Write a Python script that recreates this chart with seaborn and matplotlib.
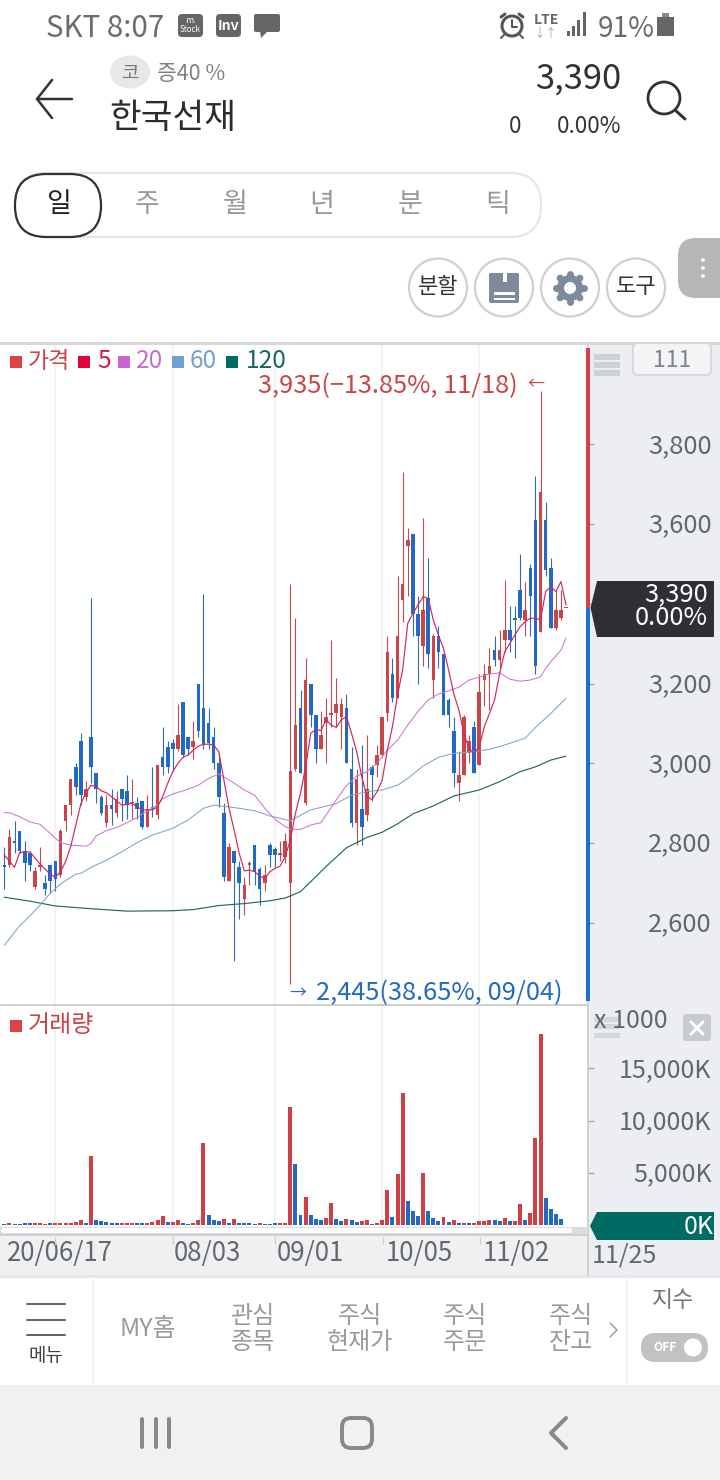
import numpy as np
import pandas as pd
import seaborn as sns
import matplotlib
matplotlib.use("Agg")
import matplotlib.pyplot as plt
from matplotlib.patches import Rectangle, FancyBboxPatch, Ellipse, Polygon, Circle
from matplotlib.transforms import ScaledTranslation

# ---------- data ----------
candle_high = [2790,2835,2855,2830,2805,2780,2740,2790,2720,2745, 2755,2835,2895,2960,3000,3075,2955,3415,2975,2920,
               2920,2935,2930,2935,2970,2960,2915,2905,2920,2990, 2995,3090,3055,3060,3150,3155,3065,3105,3200,3425,
               3140,3090,3025,2900,2800,2780,2755,2715,2755,2795, 2740,2745,2800,2790,2805,2825,3450,3365,3185,3265,
               3200,3120,3130,3165,3310,3215,3165,3175,3040,2985, 3045,3070,2995,3045,3115,3320,3265,3470,3730,3590,
               3575,3420,3615,3515,3325,3345,3275,3165,3115,3030, 3120,3070,3105,3225,3250,3290,3320,3335,3460,3395,
               3395,3525,3455,3500,3720,3935,3655,3515,3435,3435,3390]
candle_top = [2745,2815,2805,2830,2780,2775,2730,2745,2700,2745, 2755,2830,2895,2960,2990,3055,2935,3065,2975,2915,
              2895,2895,2910,2935,2930,2900,2900,2905,2885,2890, 2995,3015,3040,3050,3070,3155,3065,3055,3200,3140,
              3100,3065,3000,2875,2790,2780,2740,2695,2750,2795, 2735,2720,2795,2785,2775,2805,2980,3095,3140,3210,
              3200,3120,3070,3115,3125,3150,3150,3140,2985,2960, 2885,2935,2990,3020,3115,3280,3225,3320,3450,3560,
              3575,3375,3385,3415,3320,3320,3275,3160,3080,2970, 3115,3055,3090,3180,3225,3245,3285,3285,3335,3335,
              3365,3435,3385,3490,3610,3680,3610,3490,3385,3385,3390]
candle_bottom = [2740,2745,2800,2780,2750,2745,2690,2740,2685,2705, 2710,2720,2855,2895,2940,2920,2915,2990,2935,2875,
                 2850,2885,2875,2910,2895,2900,2885,2840,2840,2885, 2870,2990,2990,3035,3035,3020,3035,3040,3080,3045,
                 3050,3000,2915,2715,2705,2750,2700,2660,2745,2730, 2685,2700,2770,2770,2770,2765,2700,2985,2975,2900,
                 3120,3035,3035,3100,3120,3125,3115,3000,2850,2850, 2840,2870,2970,2995,3020,3125,3165,3165,3410,3545,
                 3375,3320,3295,3275,3210,3280,3120,3120,2975,2950, 2970,3025,2975,2995,3210,3225,3260,3260,3310,3310,
                 3360,3365,3360,3420,3245,3330,3485,3340,3340,3365,3390]
candle_low = [2685,2740,2775,2775,2705,2730,2685,2730,2670,2675, 2680,2715,2830,2870,2920,2895,2905,2950,2900,2870,
              2840,2845,2865,2855,2860,2860,2860,2835,2840,2865, 2860,2970,2975,2980,3030,3015,3020,3010,3065,3035,
              3035,2985,2890,2705,2705,2505,2610,2620,2695,2695, 2645,2680,2740,2740,2755,2750,2445,2980,2975,2895,
              3090,3000,3035,3000,3090,3090,3035,3000,2840,2795, 2795,2855,2905,2965,3015,3105,3155,3165,3355,3420,
              3320,3200,3245,3240,3165,3240,3120,3090,2940,2905, 2970,3000,2975,2995,3145,3135,3245,3240,3280,3280,
              3265,3360,3320,3320,3225,3330,3470,3340,3335,3360,3390]
red_candles = [1,6,7,11,12,13,16,20,22,25,28,30,34,37,44,47,48,51,54,55,56,57,59,62,63,64,65,66,69,71,73,74,75,77,78,79,
               82,84,89,90,91,93,94,95,97,98,102,105,108,109,110]

ma5_day = [0,2,3,5,7,9,10,11,12,13,14,15,16,17,18,19,20,21,22,23,25,27,29,30,31,32,33,34,35,36,37,38,39,40,41,42,43,44,45,46,47,48,49,50,51,52,53,54,55,56,57,58,59,60,61,62,63,64,65,66,67,68,69,70,71,72,73,74,75,76,77,78,79,80,81,82,83,84,85,86,87,88,89,90,91,92,93,94,95,96,97,98,99,100,101,102,103,104,105,106,107,108,109,110]
ma5_val = [2770,2739,2776,2778,2747,2722,2714,2728,2753,2791,2845,2899,2926,2945,2941,2931,2926,2916,2906,2895,2899,2883,2883,2891,2916,2950,2979,3000,3015,3021,3033,3043,3048,3048,3046,3029,2958,2887,2833,2774,2730,2732,2728,2717,2711,2728,2736,2742,2766,2807,2874,2925,2991,3075,3085,3082,3109,3096,3090,3109,3117,3075,3029,2966,2916,2909,2929,2958,3033,3092,3171,3234,3351,3376,3397,3418,3414,3360,3322,3288,3234,3175,3134,3075,3037,3025,3042,3092,3125,3159,3226,3280,3301,3322,3343,3355,3364,3364,3360,3431,3443,3431,3456,3397]
ma20_day = [0,1,3,5,7,9,10,11,13,15,16,17,18,20,22,24,26,28,30,31,33,35,37,38,40,42,43,45,47,49,51,53,55,56,58,60,62,63,65,67,69,71,73,75,77,79,81,83,85,87,89,91,93,95,97,99,101,103,105,106,107,109,110]
ma20_val = [2876,2876,2866,2853,2847,2824,2812,2801,2795,2793,2792,2799,2818,2831,2839,2851,2864,2881,2895,2911,2923,2931,2940,2945,2962,2973,2966,2950,2933,2920,2887,2860,2841,2835,2834,2845,2851,2870,2908,2944,2968,2979,3000,3033,3058,3096,3130,3159,3174,3182,3191,3209,3216,3224,3227,3211,3206,3209,3217,3238,3255,3284,3315]
ma60_day = [0,3,5,7,9,11,14,15,17,20,23,26,29,33,36,39,41,45,49,52,56,60,65,68,71,74,77,79,82,85,88,92,95,98,102,104,107,110]
ma60_val = [2543,2592,2617,2644,2674,2697,2722,2724,2739,2757,2778,2801,2820,2837,2858,2887,2895,2889,2881,2868,2856,2883,2899,2920,2929,2933,2945,2962,2993,3015,3025,3029,3035,3046,3063,3090,3125,3163]
ma120_day = [0,5,10,16,24,33,37,42,47,52,55,56,58,60,63,67,71,74,77,80,84,88,93,97,101,104,107,110]
ma120_val = [2664,2654,2642,2636,2629,2630,2633,2643,2648,2655,2662,2667,2678,2703,2741,2788,2814,2827,2848,2873,2893,2918,2933,2954,2979,2991,3008,3018]

volume_k = [95,160,130,95,190,190,190,190,95,190, 190,160,190,225,320,445,190,6630,510,350,
            320,190,190,160,225,225,160,160,190,255, 445,830,285,255,510,225,130,225,445,7880,
            990,445,350,540,160,540,225,160,160,130, 225,130,95,160,160,160,11290,5805,955,2650,
            925,540,445,700,2135,605,385,605,445,255, 415,480,130,160,510,3350,765,4850,12665,2330,
            1370,830,5010,1310,670,350,735,255,510,225, 190,160,160,415,415,480,445,415,700,350,
            415,1980,510,1115,8295,18250,2615,1500,1020,605,0]
red_volume = [1,6,7,8,10,11,12,13,14,15,17,23,24,25,28,29,30,31,33,34,37,38,39,43,45,50,54,55,56,59,63,64,67,70,71,73,74,75,
              77,78,82,86,88,90,92,93,94,95,98,100,101,103,104,105]

date_days = [10, 33, 53, 74, 93]
date_labels = ["20/06/17", "08/03", "09/01", "10/05", "11/02"]
price_ticks = [2600, 2800, 3000, 3200, 3400, 3600, 3800]
vol_ticks = [5000, 10000, 15000]

# ---------- style ----------
sns.set_theme(style="white")
plt.rcParams['font.family'] = ['Noto Sans CJK KR', 'DejaVu Sans']
RED, BLUE, WICK_BLUE = "#cb4548", "#2269c6", "#2f6cab"
GREY_TXT = "#5f6873"
W, H = 720, 1480
fig = plt.figure(figsize=(7.2, 14.8), dpi=100, facecolor="white")

def px_axes(x0, y0, x1, y1, **kw):
    return fig.add_axes([x0 / W, 1 - y1 / H, (x1 - x0) / W, (y1 - y0) / H], **kw)

bg = px_axes(0, 0, W, H, zorder=0); bg.set_xlim(0, W); bg.set_ylim(H, 0); bg.axis("off")
ui = px_axes(0, 0, W, H, zorder=10); ui.set_xlim(0, W); ui.set_ylim(H, 0); ui.axis("off"); ui.patch.set_alpha(0)

def rect(ax, x0, y0, x1, y1, c, **kw):
    ax.add_patch(Rectangle((x0, y0), x1 - x0, y1 - y0, fc=c, ec="none", lw=0, **kw))
def rrect(ax, x0, y0, x1, y1, r, fc, ec="none", lw=1.0):
    ax.add_patch(FancyBboxPatch((x0 + r, y0 + r), x1 - x0 - 2 * r, y1 - y0 - 2 * r,
                                boxstyle=f"round,pad={r},rounding_size={r}", fc=fc, ec=ec, lw=lw))
def T(x, y, s, px, c, ha="center", **kw):
    ui.text(x, y + 0.09 * px, s, fontsize=px * 0.72, color=c, ha=ha, va="center", **kw)
def L(xs, ys, c, lw=1.5, **kw):
    ui.plot(xs, ys, color=c, lw=lw * 0.72, solid_capstyle="round", **kw)
def nudge(labels, dx_px=0, dy_px=0):
    for lab in labels:
        lab.set_transform(lab.get_transform() + ScaledTranslation(dx_px / 100, dy_px / 100, fig.dpi_scale_trans))

# panels
rect(bg, 588, 344, W, 1276, "#eceef2")
rect(bg, 0, 1235, 588, 1276, "#f0f0f1")
rect(bg, 0, 1385, W, H, "#f1f1f1")
rect(bg, 0, 342, W, 345, "#d8d8d8")
rect(bg, 0, 1275, W, 1278, "#e6e6e6")

# ---------- price chart ----------
STEP, X0 = 5.107, 4.3
SCALE, Y3800 = 0.3985, 444.5
def xlim_for(x0, x1):
    return ((x0 - X0) / STEP, (x1 - X0) / STEP)
def price_at(y):
    return 3800 - (y - Y3800) / SCALE

ax = px_axes(0, 345, 588, 1004, zorder=2)
days = np.arange(len(candle_high))
is_red = np.isin(days, red_candles)
high, top, bottom, low = map(np.array, (candle_high, candle_top, candle_bottom, candle_low))

ax.vlines(days[is_red], low[is_red], high[is_red], color="#c04a50", lw=0.8, zorder=3)
ax.vlines(days[~is_red], low[~is_red], high[~is_red], color=WICK_BLUE, lw=0.8, zorder=3)
heights = np.maximum(top - bottom, 3)
ax.bar(days[is_red], heights[is_red], bottom=bottom[is_red], width=0.7, color=RED, lw=0, zorder=4)
ax.bar(days[~is_red], heights[~is_red], bottom=bottom[~is_red], width=0.7, color=BLUE, lw=0, zorder=4)

for xs, ys, col, w in [(ma120_day, ma120_val, "#23685f", 0.85), (ma60_day, ma60_val, "#7fa5c6", 0.75),
                       (ma20_day, ma20_val, "#c877cf", 0.75), (ma5_day, ma5_val, "#d3265c", 0.85)]:
    sns.lineplot(x=xs, y=ys, color=col, lw=w, ax=ax, estimator=None, zorder=5)

ax.set_xlim(*xlim_for(0, 588))
ax.set_ylim(price_at(1004), price_at(345))
ax.set_xticks(date_days); ax.set_xticklabels([])
ax.grid(axis="x", color="#f0f0f0", lw=1.1); ax.set_axisbelow(True)
ax.yaxis.tick_right()
ax.set_yticks(price_ticks)
ax.set_yticklabels([f"{v:,}" if v != 3400 else "" for v in price_ticks], color=GREY_TXT, fontsize=18.4, ha="right")
ax.tick_params(axis="y", length=4, width=0.9, color="#9aa0a8", pad=85, right=True, left=False)
ax.tick_params(axis="x", length=0)
nudge(ax.get_yticklabels(), dy_px=1.5)
sns.despine(ax=ax, left=True, right=True, top=True, bottom=True)

# divider, price rail + last-price flag
rect(ui, 587, 344, 589, 1276, "#cfd1d4")
y_last = Y3800 + (3800 - 3390) * SCALE
rect(ui, 586, 348, 590, y_last, "#d64249")
rect(ui, 586, y_last, 590, 1001, "#1f6fd0")
ui.add_patch(Polygon([(590.5, y_last), (597, 581), (714, 581), (714, 637), (597, 637)], fc="#2e3034", ec="none", lw=0))
T(708, 592, "3,390", 25.5, "white", ha="right")
T(708, 616, "0.00%", 25.5, "white", ha="right")

# legend row
for x0, col in [(10, "#de4148"), (78, "#e4003a"), (118, "#c866d0"), (172, "#6fa0d2"), (226, "#006b63")]:
    rect(ui, x0, 356, x0 + 12, 368, col)
T(28, 359, "가격", 23, "#c5454a", ha="left")
T(97, 359, "5", 24.5, "#cf1f4d", ha="left")
T(136, 359, "20", 24.5, "#c46fc8", ha="left")
T(190, 359, "60", 24.5, "#74a0cc", ha="left")
T(246, 358.5, "120", 24.5, "#17675f", ha="left")

T(258, 384, "3,935(−13.85%, 11/18)", 25.3, "#cb4548", ha="left")
T(536, 382, "←", 17, "#cb4548")
T(298, 991, "→", 17, "#2269c6")
T(316, 991, "2,445(38.65%, 09/04)", 25.4, "#2269c6", ha="left")

# top-right of chart
for y0 in (354, 362, 370):
    rect(ui, 594, y0, 620, y0 + 6, "#cdd0d5")
rrect(ui, 633, 343, 711, 375, 5, "#f3f4f6", ec="#d3d5d8", lw=1.2)
T(672, 358, "111", 23, "#80848a")

# ---------- volume chart ----------
vx = px_axes(0, 1006, 588, 1227, zorder=2)
vol_dir = np.where(np.isin(days, red_volume), "up", "down")
df = pd.DataFrame({"day": days, "volume": volume_k, "dir": vol_dir})
sns.barplot(data=df, x="day", y="volume", hue="dir", palette={"up": "#ce4045", "down": BLUE},
            native_scale=True, dodge=False, width=0.78, saturation=1, legend=False, linewidth=0, ax=vx, zorder=3)
vx.set_xlim(*xlim_for(0, 588))
vol_per_px = 5000 / 52.2
vx.set_ylim(-(1227 - 1225) * vol_per_px, (1225 - 1006) * vol_per_px)
vx.set_xlabel(""); vx.set_ylabel("")
vx.grid(axis="x", color="#f0f0f0", lw=1.1); vx.set_axisbelow(True)
vx.set_xticks(date_days)
vx.set_xticklabels(date_labels, ha="left", color=GREY_TXT, fontsize=18.6)
vx.tick_params(axis="x", length=0, pad=9)
shifts = [-48, 1, 2, 3.5, 3]
for lab, dx in zip(vx.get_xticklabels(), shifts):
    nudge([lab], dx_px=dx)
vx.yaxis.tick_right()
vx.set_yticks(vol_ticks)
vx.set_yticklabels([f"{v:,}K" for v in vol_ticks], color=GREY_TXT, fontsize=18, ha="right")
vx.tick_params(axis="y", length=4, width=0.9, color="#9aa0a8", pad=85, right=True, left=False)
nudge(vx.get_yticklabels(), dy_px=1.5)
sns.despine(ax=vx, left=True, right=True, top=True, bottom=True)

T(592, 1253, "11/25", 25, GREY_TXT, ha="left")
rect(ui, 10, 1020, 22, 1032, "#de4148")
T(28, 1023, "거래량", 24, "#c5454a", ha="left")
for y0 in (1017, 1024, 1033):
    rect(ui, 594, y0, 620, y0 + 5, "#cdd0d5", alpha=0.75)
T(594, 1019, "x 1000", 25, GREY_TXT, ha="left")
rrect(ui, 683, 1014, 711, 1041, 3, "#c7cbd1")
L([691, 703], [1022, 1034], "white", 3); L([691, 703], [1034, 1022], "white", 3)
ui.add_patch(Polygon([(590, 1226), (597, 1212), (714, 1212), (714, 1240), (597, 1240)], fc="#006b63", ec="none", lw=0))
T(714, 1225, "0K", 25, "white", ha="right")

# separators and scroller
rect(ui, 0, 1004, 588, 1006, "#cfcfcf")
rect(ui, 0, 1227, 588, 1234, "#dcdcde")
rrect(ui, 1, 1228, 572, 1233, 2.5, "white")
rect(ui, 0, 1234, 588, 1236, "#cfcfcf")
for x_ in (55, 172.7, 275.3, 382.7, 479.7):
    L([x_, x_], [1237, 1244], "#cfcfcf", 1.2)

# ---------- status bar ----------
T(46, 26, "SKT 8:07", 29.5, "#6b6b6b", ha="left")
rrect(ui, 178, 14, 203, 37, 4, "#666666")
T(190.5, 20, "m.", 9, "white"); T(190.5, 29, "Stock", 8, "white")
rrect(ui, 216, 14, 241, 37, 4, "#666666")
T(228.5, 25, "Inv", 14, "white", fontweight="bold")
rrect(ui, 254, 14, 280, 32, 2, "#666666")
ui.add_patch(Polygon([(260, 31), (261, 38), (268, 31)], fc="#666666", ec="none", lw=0))
ui.add_patch(Circle((512, 26), 10, fc="none", ec="#555555", lw=2.2))
L([512, 512, 517], [20, 27, 27], "#555555", 2)
L([501, 505], [17, 14], "#555555", 3); L([523, 519], [17, 14], "#555555", 3)
L([504, 501], [35, 38], "#555555", 2); L([520, 523], [35, 38], "#555555", 2)
T(546, 19, "LTE", 14, "#666666", fontweight="bold")
T(546, 32, "↓↑", 12, "#aaaaaa")
for x_, h_ in zip((567, 572, 577, 583), (5, 10, 16, 24)):
    rect(ui, x_, 36 - h_, x_ + 2.5, 36, "#666666")
T(598, 26, "91%", 28, "#6b6b6b", ha="left")
rect(ui, 657, 17, 674, 36, "#666666"); rect(ui, 662, 13, 669, 17, "#888888")

# ---------- header ----------
L([72, 37], [99, 99], "#333333", 2.5); L([52, 37, 52], [80, 99, 118], "#333333", 2.5)
ui.add_patch(Ellipse((130, 72), 40, 33, fc="#e8e8e8", ec="none", lw=0))
T(130, 72, "코", 19, "#777777")
T(157, 72, "증40 %", 21.5, "#808080", ha="left")
T(109, 115, "한국선재", 34.5, "#2b2b2b", ha="left")
T(621, 76, "3,390", 34.5, "#333333", ha="right")
T(515, 124, "0", 22.5, "#333333")
T(621, 124, "0.00%", 22.5, "#333333", ha="right")
ui.add_patch(Circle((664, 98), 16, fc="none", ec="#333333", lw=2))
L([675, 685], [110, 119], "#333333", 3)

# period tabs
rrect(ui, 15, 173, 541, 237, 31, "white", ec="#e6e6e6", lw=1.6)
rrect(ui, 15, 174, 101, 237, 31, "white", ec="#333333", lw=1.6)
for x_, s, col in zip((59, 147, 235, 322, 410, 498), "일주월년분틱", ["#222222"] + ["#999999"] * 5):
    T(x_, 202, s, 27, col)

# tool buttons
for cx in (438, 504, 570, 636):
    ui.add_patch(Circle((cx, 287.5), 29, fc="white", ec="#cfcfcf", lw=1.6))
T(438, 285, "분할", 22, "#333333"); T(636, 285, "도구", 22, "#333333")
rrect(ui, 489, 273, 519, 303, 2, "#7f8a9a")
rect(ui, 503, 273, 507, 282, "white")
rect(ui, 494, 292, 515, 294.5, "white"); rect(ui, 494, 297.5, 515, 300, "white")
for a in np.linspace(0, 2 * np.pi, 8, endpoint=False):
    L([570 + 10 * np.cos(a), 570 + 14 * np.cos(a)], [288 + 10 * np.sin(a), 288 + 14 * np.sin(a)], "#7f8a9a", 7)
ui.add_patch(Circle((570, 288), 13, fc="#7f8a9a", ec="none", lw=0))
ui.add_patch(Circle((570, 288), 6, fc="white", ec="none", lw=0))
rrect(ui, 678, 238, 740, 298, 18, "#b7b7b7")
for y_ in (260, 268, 276):
    ui.add_patch(Circle((703, y_), 1.8, fc="white", ec="none", lw=0))

# ---------- bottom menu ----------
for y_ in (1304, 1320, 1335):
    L([27, 65], [y_, y_], "#666666", 2)
T(46, 1354, "메뉴", 19, "#444444")
for x_ in (93, 627):
    L([x_, x_], [1278, 1385], "#f0f0f0", 2)
T(148, 1327, "MY홈", 25, "#999999")
T(253, 1314, "관심", 24, "#999999"); T(253, 1340, "종목", 24, "#999999")
T(360, 1314, "주식", 24, "#999999"); T(360, 1340, "현재가", 24, "#999999")
T(465, 1314, "주식", 24, "#999999"); T(465, 1340, "주문", 24, "#999999")
T(571, 1314, "주식", 24, "#999999"); T(571, 1340, "잔고", 24, "#999999")
L([610, 617, 610], [1323, 1330, 1337], "#999999", 1.4)
T(673, 1298, "지수", 23, "#777777")
rrect(ui, 641, 1333, 708, 1362, 14.5, "#c2c2c2")
T(665, 1346.5, "OFF", 12, "white", fontweight="bold")
ui.add_patch(Circle((693, 1347.5), 9, fc="white", ec="none", lw=0))

# nav bar
for x_ in (142, 155.5, 169):
    L([x_, x_], [1419, 1447], "#888888", 4)
rrect(ui, 342, 1418, 372, 1448, 9, "none", ec="#888888", lw=2.8)
L([566, 551, 566], [1418, 1433, 1448], "#888888", 4)

fig.savefig("out.png", dpi=100)
